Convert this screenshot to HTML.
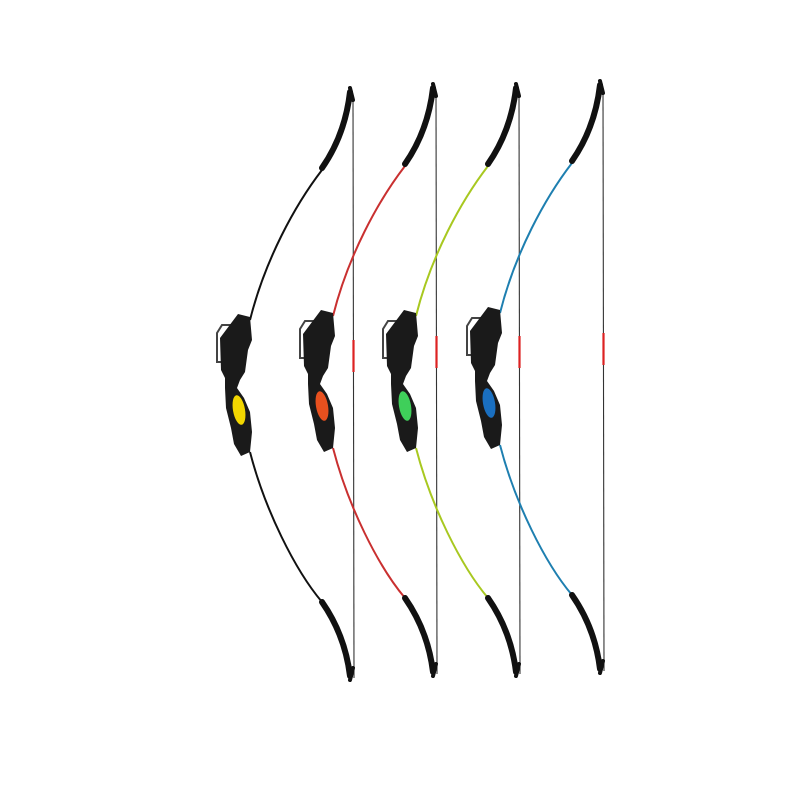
<!DOCTYPE html>
<html><head><meta charset="utf-8"><style>html,body{margin:0;padding:0;background:#fff;width:800px;height:800px;overflow:hidden}</style></head>
<body>
<svg width="800" height="800" viewBox="0 0 800 800" xmlns="http://www.w3.org/2000/svg">
<defs>
<g id="frame">
  <line x1="353" y1="96" x2="354" y2="678" stroke="#333" stroke-width="1.1"/>
  <line x1="353.5" y1="340" x2="353.5" y2="372" stroke="#d22" stroke-width="2.2"/>
  <path d="M322,168 Q345,135 350,92" fill="none" stroke="#111" stroke-width="6" stroke-linecap="round"/>
  <path d="M350,88 L353,100" stroke="#111" stroke-width="4" stroke-linecap="round"/>
  <path d="M322,602 Q345,635 350,676" fill="none" stroke="#111" stroke-width="6" stroke-linecap="round"/>
  <path d="M350,680 L353,668" stroke="#111" stroke-width="4" stroke-linecap="round"/>
  <path d="M217,333 L222,325 L232,325 L228,362 L217,362 Z" fill="none" stroke="#444" stroke-width="2"/>
  <path d="M238,314 L250,317 L252,340 L248,350 L245,372 L240,380 L237,388 L244,398 L250,412 L252,432 L250,452 L241,456 L234,444 L231,428 L226,408 L225,388 L225,378 L221,370 L220,338 Z" fill="#1a1a1a"/>
</g>
</defs>
<g>
  <path d="M250,320 C265,260 295,205 322,170" fill="none" stroke="#111" stroke-width="2"/>
  <path d="M250,452 C265,510 295,570 322,602" fill="none" stroke="#111" stroke-width="2"/>
  <use href="#frame"/>
  <ellipse cx="239" cy="410" rx="6" ry="15" transform="rotate(-10 239 410)" fill="#f2d600"/>
</g>
<g transform="translate(83,-4)">
  <path d="M250,320 C265,260 295,205 322,170" fill="none" stroke="#c93030" stroke-width="2"/>
  <path d="M250,452 C265,510 295,570 322,602" fill="none" stroke="#c93030" stroke-width="2"/>
  <use href="#frame"/>
  <ellipse cx="239" cy="410" rx="6" ry="15" transform="rotate(-10 239 410)" fill="#e8501e"/>
</g>
<g transform="translate(166,-4)">
  <path d="M250,320 C265,260 295,205 322,170" fill="none" stroke="#a8c820" stroke-width="2"/>
  <path d="M250,452 C265,510 295,570 322,602" fill="none" stroke="#a8c820" stroke-width="2"/>
  <use href="#frame"/>
  <ellipse cx="239" cy="410" rx="6" ry="15" transform="rotate(-10 239 410)" fill="#3fcf5a"/>
</g>
<g transform="translate(250,-7)">
  <path d="M250,320 C265,260 295,205 322,170" fill="none" stroke="#1e7fb0" stroke-width="2"/>
  <path d="M250,452 C265,510 295,570 322,602" fill="none" stroke="#1e7fb0" stroke-width="2"/>
  <use href="#frame"/>
  <ellipse cx="239" cy="410" rx="6" ry="15" transform="rotate(-10 239 410)" fill="#1a6fc0"/>
</g>
</svg>
</body></html>
